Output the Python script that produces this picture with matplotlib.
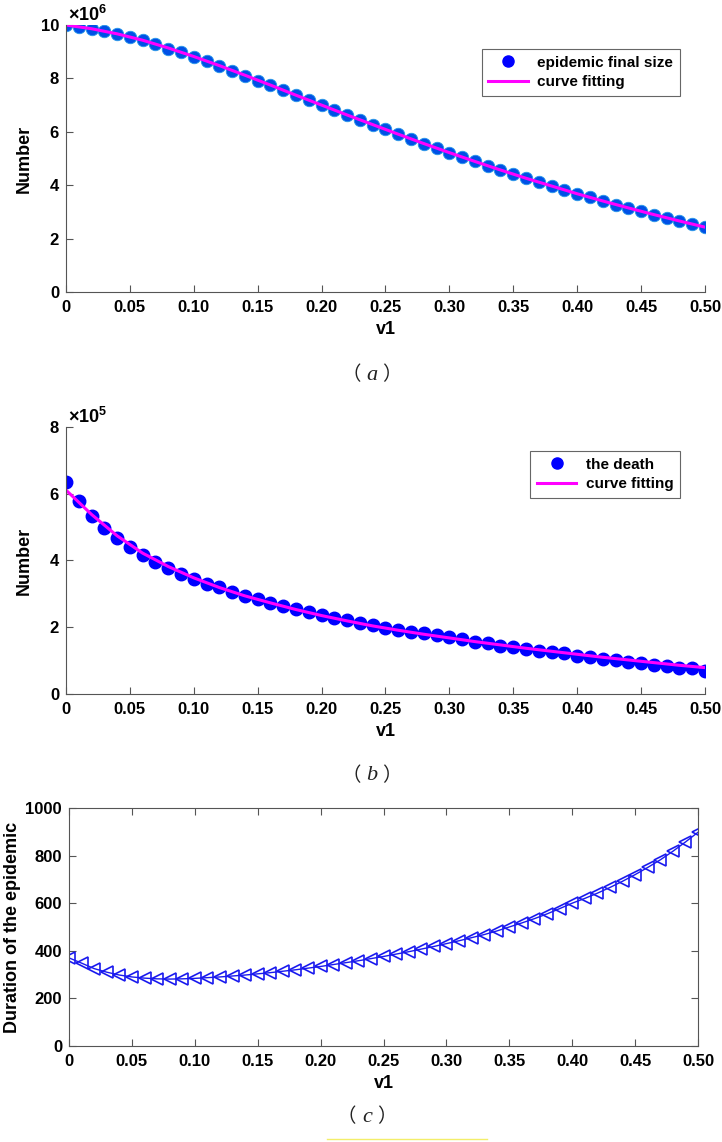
import numpy as np
import matplotlib
matplotlib.use('Agg')
import matplotlib.pyplot as plt
from matplotlib.lines import Line2D

plt.rcParams['font.family'] = ['Liberation Sans', 'DejaVu Sans']
plt.rcParams['font.weight'] = 'bold'
plt.rcParams['mathtext.fontset'] = 'custom'
plt.rcParams['mathtext.rm'] = 'Liberation Sans'
plt.rcParams['mathtext.bf'] = 'Liberation Sans:bold'

# ---- data ----
v1 = np.linspace(0, 0.5, 51)
v1_fit = np.linspace(0, 0.5, 26)

# (a) epidemic final size, x 10^6
final_size = [10.00, 9.92, 9.86, 9.76, 9.68, 9.56, 9.42, 9.28, 9.12, 8.98,
              8.80, 8.64, 8.46, 8.28, 8.10, 7.92, 7.74, 7.55, 7.37, 7.18,
              7.00, 6.82, 6.63, 6.45, 6.27, 6.09, 5.91, 5.74, 5.56, 5.39,
              5.22, 5.05, 4.89, 4.73, 4.57, 4.42, 4.27, 4.12, 3.98, 3.83,
              3.68, 3.54, 3.40, 3.27, 3.14, 3.02, 2.90, 2.78, 2.66, 2.54,
              2.42]
final_fit = [10.00, 9.86, 9.67, 9.43, 9.14, 8.82, 8.48, 8.12, 7.75, 7.37,
             7.00, 6.63, 6.27, 5.91, 5.56, 5.22, 4.89, 4.57, 4.26, 3.97,
             3.68, 3.41, 3.15, 2.90, 2.66, 2.43]

# (b) the death, x 10^5
death = [6.34, 5.78, 5.33, 4.98, 4.66, 4.40, 4.16, 3.96, 3.77, 3.60,
         3.45, 3.31, 3.20, 3.07, 2.95, 2.86, 2.74, 2.63, 2.55, 2.45,
         2.37, 2.28, 2.21, 2.13, 2.07, 1.99, 1.93, 1.87, 1.82, 1.77,
         1.72, 1.64, 1.56, 1.52, 1.45, 1.40, 1.36, 1.28, 1.25, 1.22,
         1.15, 1.10, 1.06, 1.01, 0.97, 0.94, 0.88, 0.83, 0.78, 0.77,
         0.70]
death_fit = [6.11, 5.38, 4.74, 4.22, 3.82, 3.48, 3.19, 2.94, 2.73, 2.53,
             2.35, 2.19, 2.04, 1.91, 1.79, 1.68, 1.57, 1.47, 1.37, 1.28,
             1.19, 1.10, 1.02, 0.94, 0.86, 0.79]

# (c) duration of the epidemic
duration = [370, 348, 325, 310, 298, 290, 285, 282, 281, 282,
            284, 287, 290, 294, 298, 303, 308, 314, 320, 327,
            334, 342, 350, 358, 367, 376, 386, 396, 407, 418,
            430, 442, 455, 468, 483, 500, 517, 535, 555, 577,
            600, 620, 642, 666, 692, 720, 750, 782, 818, 857,
            898]

xticks = [0, 0.05, 0.10, 0.15, 0.20, 0.25, 0.30, 0.35, 0.40, 0.45, 0.50]
xticklabels = ['0', '0.05', '0.10', '0.15', '0.20', '0.25', '0.30', '0.35',
               '0.40', '0.45', '0.50']

fig = plt.figure(figsize=(7.22, 11.42), dpi=100)
ax1 = fig.add_axes([0.0914, 0.7443, 0.885, 0.2338])
ax2 = fig.add_axes([0.0914, 0.3923, 0.885, 0.2338])
ax3 = fig.add_axes([0.0956, 0.0841, 0.8712, 0.2084])

spine_col = '#555555'


def style_axes(ax, box):
    ax.set_xlim(0, 0.5)
    ax.set_xticks(xticks)
    ax.set_xticklabels(xticklabels)
    ax.tick_params(direction='in', length=5, width=0.8, color=spine_col,
                   labelsize=12, top=box, right=box)
    ax.tick_params(axis='x', pad=6)
    ax.tick_params(axis='y', pad=5)
    for s in ax.spines.values():
        s.set_color(spine_col)
        s.set_linewidth(0.8)
    if not box:
        ax.spines['top'].set_visible(False)
        ax.spines['right'].set_visible(False)
    ax.set_xlabel('v1', fontsize=13, fontweight='bold', labelpad=4)


def caption(x, y, letter):
    # full-width brackets from the CJK font, italic serif letter between them
    fig.text(x - 0.028, y, '（', family='Noto Sans CJK SC', fontsize=14,
             fontweight='light', ha='center', va='center', color='#222222')
    fig.text(x, y, letter, family='Liberation Serif', style='italic',
             fontsize=16, fontweight='normal', ha='center', va='center',
             color='#222222')
    fig.text(x + 0.028, y, '）', family='Noto Sans CJK SC', fontsize=14,
             fontweight='light', ha='center', va='center', color='#222222')


leg_kw = dict(loc='upper right', fancybox=False, framealpha=1,
              edgecolor='#666666', prop={'size': 11, 'weight': 'bold'},
              handlelength=2.6, borderpad=0.45, labelspacing=0.35,
              handletextpad=0.6)

# ---- (a) ----
ax1.plot(v1, final_size, 'o', ms=9, mfc='#0050e6', mec='#2a9ae8', mew=0.6,
         label='epidemic final size')
ax1.plot(v1_fit, final_fit, '-', color='#ff00ff', lw=2.2, label='curve fitting')
style_axes(ax1, False)
ax1.set_ylim(0, 10)
ax1.set_yticks([0, 2, 4, 6, 8, 10])
ax1.set_ylabel('Number', fontsize=13, fontweight='bold', labelpad=6)
ax1.text(0.003, 1.0, r'$\times\mathbf{10^{6}}$', transform=ax1.transAxes,
         fontsize=13, ha='left', va='bottom')
h, l = ax1.get_legend_handles_labels()
h[0] = Line2D([], [], ls='none', marker='o', ms=8, mfc='#0000ff', mec='#0000ff')
leg1 = ax1.legend(h, l, bbox_to_anchor=(0.973, 0.94), **leg_kw)
leg1.get_frame().set_linewidth(0.8)
caption(0.515, 1 - 375 / 1142, 'a')

# ---- (b) ----
ax2.plot(v1, death, 'o', ms=9, mfc='#0000ff', mec='#0000ff', label='the death')
ax2.plot(v1_fit, death_fit, '-', color='#ff00ff', lw=2.2, label='curve fitting')
style_axes(ax2, False)
ax2.set_ylim(0, 8)
ax2.set_yticks([0, 2, 4, 6, 8])
ax2.set_ylabel('Number', fontsize=13, fontweight='bold', labelpad=12)
ax2.text(0.003, 1.0, r'$\times\mathbf{10^{5}}$', transform=ax2.transAxes,
         fontsize=13, ha='left', va='bottom')
h, l = ax2.get_legend_handles_labels()
h[0] = Line2D([], [], ls='none', marker='o', ms=8, mfc='#0000ff', mec='#0000ff')
leg2 = ax2.legend(h, l, bbox_to_anchor=(0.973, 0.94), **leg_kw)
leg2.get_frame().set_linewidth(0.8)
caption(0.515, 1 - 776 / 1142, 'b')

# ---- (c) ----
ax3.plot(v1, duration, '-<', color='#1a1aee', lw=1, ms=9, mfc='none', mew=1.2)
style_axes(ax3, True)
ax3.set_ylim(0, 1000)
ax3.set_yticks([0, 200, 400, 600, 800, 1000])
ax3.set_ylabel('Duration of the epidemic', fontsize=13, fontweight='bold',
               labelpad=3)
caption(0.508, 1 - 1117 / 1142, 'c')

# faint yellow rule at the very bottom
fig.add_artist(Line2D([327 / 722, 487 / 722], [3 / 1142, 3 / 1142],
                      color='#f3ee6a', lw=1, transform=fig.transFigure))

fig.savefig('out.png', dpi=100)
